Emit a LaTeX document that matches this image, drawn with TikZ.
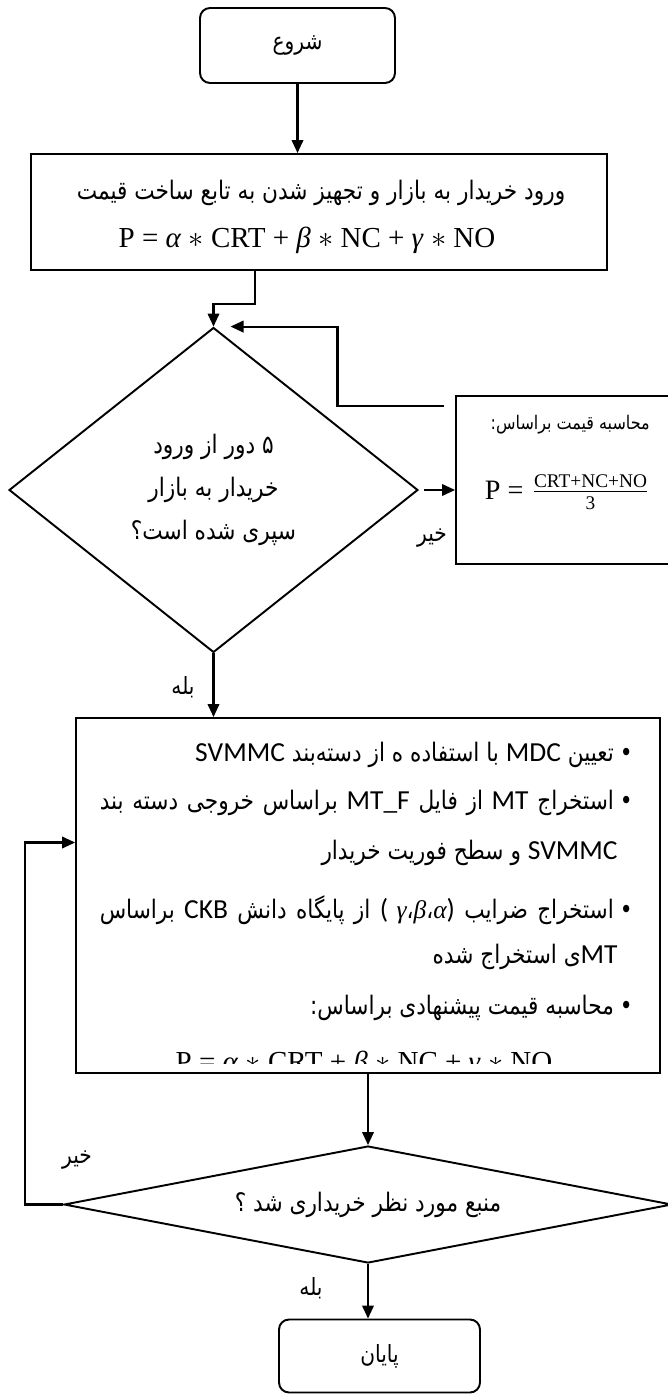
\documentclass[tikz,border=0pt]{standalone}
\usepackage{fontspec}
\usepackage{tikz}
\usetikzlibrary{shapes.geometric, arrows.meta, positioning}
\TeXXeTstate=1
\newfontfamily\fa[Script=Arabic, FakeStretch=0.85]{DejaVu Sans}
\newfontfamily\lat[Scale=1.08]{Carlito}
\newfontfamily\ser{Liberation Serif}
\newcommand{\pricefn}{{\ser P = \textit{α} $\ast$ CRT + \textit{β} $\ast$ NC + \textit{γ} $\ast$ NO}}

\begin{document}
\begin{tikzpicture}[
  x=0.02cm, y=-0.02cm,
  term/.style={draw, rounded corners=2mm, line width=1.1pt,
               font=\fa\fontsize{13.5}{16}\selectfont},
  proc/.style={draw, line width=1.1pt, inner sep=0pt},
  cond/.style={draw, diamond, line width=1.1pt, inner sep=0pt, align=center,
               font=\fa\fontsize{14.5}{24.5}\selectfont},
  fatxt/.style={inner sep=0pt, font=\fa\fontsize{14.5}{17}\selectfont},
  lbl/.style={inner sep=0pt, font=\fa\fontsize{13.5}{16}\selectfont},
  eq/.style={inner sep=0pt, font=\fontsize{16.5}{19}\selectfont},
  arr/.style={-{Triangle[length=2.6mm, width=2.3mm]}, line width=1.2pt}
]
\useasboundingbox (0,0) rectangle (668,1395);

%% Start and entry
\node[term, minimum width=3.9cm, minimum height=1.5cm] (start) at (297.5,45.5) {\beginR شروع\endR};
\node[proc, minimum width=11.52cm, minimum height=2.32cm] (entry) at (319,212) {};
\node[fatxt] (entrytxt) at (321,193) {\beginR ورود خریدار به بازار و تجهیز شدن به تابع ساخت قیمت\endR};
\node[eq] (entryeq) at (307,240) {\pricefn};

%% Five rounds check
\node[cond, shape aspect=1.26, minimum width=8.18cm, minimum height=6.5cm] (check5) at (213.5,490)
  {\beginR ۵ دور از ورود\endR\\\beginR خریدار به بازار\endR\\\beginR سپری شده است؟\endR};

%% Average price
\node[proc, minimum width=4.28cm, minimum height=3.36cm] (calc) at (563,480) {};
\node[anchor=east, inner sep=0pt, font=\fa\fontsize{10.7}{13}\selectfont] (calctitle) at (650,425) {\beginR محاسبه قیمت براساس:\endR};
\node[inner sep=0pt, font=\fontsize{16}{19}\selectfont] (calceq) at (567,492)
  {{\ser P =} $\frac{\hbox{\ser\fontsize{11}{13}\selectfont CRT+NC+NO}}{\hbox{\ser\fontsize{11}{13}\selectfont 3}}$};

%% Price suggestion steps
\node[proc, minimum width=11.68cm, minimum height=7.1cm] (procs) at (368,895.5) {};
\node[fatxt, anchor=east] (step1) at (633,755) {\beginR •\hspace{0.12cm}تعیین {\lat MDC} با استفاده ه از دسته‌بند {\lat SVMMC}\endR};
\node[fatxt, anchor=east] (step2) at (633,803) {\hbox to 10.66cm{\beginR •\hspace{0.12cm}استخراج {\lat MT} از فایل {\lat MT\_F} براساس خروجی دسته بند\endR}};
\node[fatxt, anchor=east] (step2b) at (618,853) {\beginR{\lat SVMMC} و سطح فوریت خریدار\endR};
\node[fatxt, anchor=east] (step3) at (633,910) {\hbox to 10.66cm{\beginR •\hspace{0.12cm}استخراج ضرایب \beginL{\lat(\ }{\ser\itshape γ}،{\ser\itshape β}،{\ser\itshape α}{\lat)}\endL{} از پایگاه دانش {\lat CKB} براساس\endR}};
\node[fatxt, anchor=east] (step3b) at (618,957) {\beginR{\lat MT}ی استخراج شده\endR};
\node[fatxt, anchor=east] (step4) at (633,1008) {\beginR •\hspace{0.12cm}محاسبه قیمت پیشنهادی براساس:\endR};
\begin{scope}
  \clip (76,718) rectangle (660,1063);
  \node[eq, anchor=base] (procseq) at (364,1071) {\pricefn};
\end{scope}

%% Purchase check and end
\node[cond, shape aspect=5.2, minimum width=12.16cm, minimum height=2.34cm] (check2) at (368,1204.5) {\beginR منبع مورد نظر خریداری شد ؟\endR};
\node[term, minimum width=4.02cm, minimum height=1.46cm] (finish) at (379.5,1356) {\beginR پایان\endR};

%% Labels
\node[lbl] (yes1) at (183,687) {\beginR بله\endR};
\node[lbl] (no1) at (432,538) {\beginR خیر\endR};
\node[lbl] (no2) at (77,1160) {\beginR خیر\endR};
\node[lbl] (yes2) at (311,1288) {\beginR بله\endR};

%% Arrows
\draw[arr] (start.south) -- (start.south |- entry.north);
\draw[arr] ([shift={(-64,0)}]entry.south) -- ++(0,33) -| (check5.north);
\draw[arr, shorten <=0.1cm] (check5.east) -- (check5.east -| calc.west);
\draw[arr] ([shift={(-11,11)}]calc.north west) -| ([shift={(124,0)}]check5.north) -- ([shift={(17,0)}]check5.north);
\draw[arr] (check5.south) -- (check5.south |- procs.north);
\draw[arr] (procs.south) -- (check2.north);
\draw[arr] (check2.west) -- ++(-38,0) |- ([shift={(0,-53)}]procs.west);
\draw[arr] (check2.south) -- (check2.south |- finish.north);

\end{tikzpicture}
\end{document}
